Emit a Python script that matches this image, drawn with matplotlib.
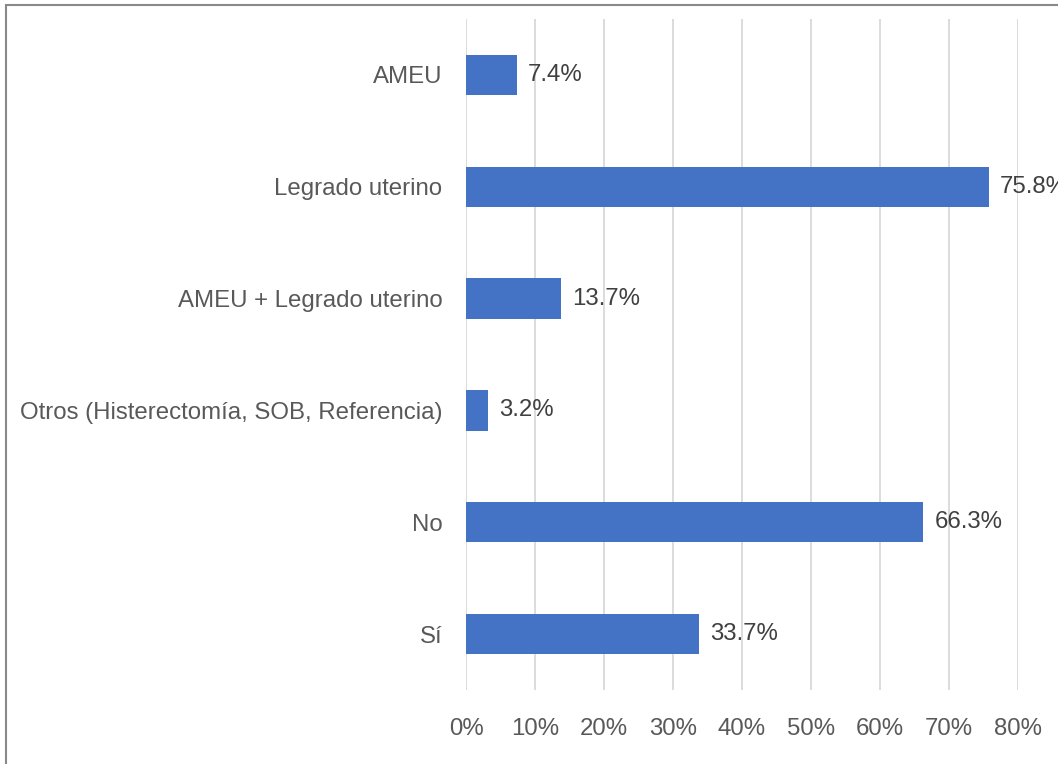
import matplotlib.pyplot as plt
from matplotlib.patches import Rectangle
from matplotlib.ticker import FuncFormatter

plt.rcParams["font.family"] = ["Liberation Sans", "DejaVu Sans"]

# categories top to bottom, shares in percent
categories = [
    "AMEU",
    "Legrado uterino",
    "AMEU + Legrado uterino",
    "Otros (Histerectomía, SOB, Referencia)",
    "No",
    "Sí",
]
shares = [7.4, 75.8, 13.7, 3.2, 66.3, 33.7]
x_ticks = [0, 10, 20, 30, 40, 50, 60, 70, 80]

bar_color = "#4472C4"
text_color = "#595959"
grid_color = "#D9D9D9"
fs = 17.25

fig = plt.figure(figsize=(10.58, 7.64), dpi=100)
ax = fig.add_axes([0.4405, 0.0969, 0.5217, 0.8783])

y_pos = list(range(len(categories)))[::-1]
ax.barh(y_pos, shares, height=0.36, color=bar_color, zorder=3)

for y, v in zip(y_pos, shares):
    ax.annotate("{:.1f}%".format(v), (v, y), xytext=(8, 0),
                textcoords="offset points", va="center", ha="left",
                fontsize=fs, color="#404040", zorder=4)

ax.set_xlim(0, 80)
ax.set_ylim(-0.5, len(categories) - 0.5)
ax.set_xticks(x_ticks)
ax.xaxis.set_major_formatter(FuncFormatter(lambda v, _: "{:.0f}%".format(v)))
ax.set_yticks(y_pos)
ax.set_yticklabels(categories)
ax.tick_params(axis="both", length=0, labelsize=fs, labelcolor=text_color)
ax.tick_params(axis="x", pad=20)
ax.tick_params(axis="y", pad=17)
ax.grid(axis="x", color=grid_color, linewidth=1.3, zorder=0)
ax.set_axisbelow(True)
for s in ax.spines.values():
    s.set_visible(False)

# outer frame of the chart area
fig.patches.append(Rectangle((6 / 1058, -0.1), 1.2, 1 - 5 / 764 + 0.1,
                             transform=fig.transFigure, fill=False,
                             edgecolor="#898989", linewidth=1.5))

fig.savefig("out.png", dpi=100)
